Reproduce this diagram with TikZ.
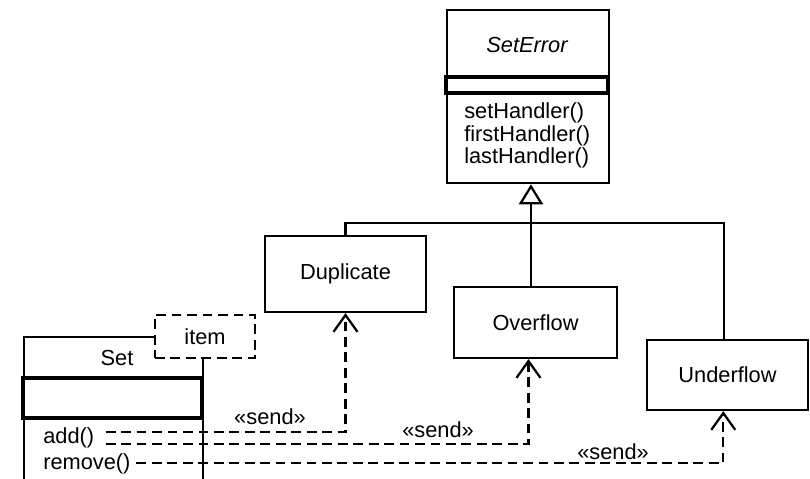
\documentclass[tikz,border=0pt]{standalone}
\usepackage{fontspec}
\setmainfont{Liberation Sans}
\usetikzlibrary{positioning, arrows.meta}

\tikzset{
  uml/.style={draw, line width=1.6pt, inner sep=0pt},
  slot/.style={draw, line width=2.4pt},
  tree/.style={line width=1.6pt},
  dots/.style={dash pattern=on 7pt off 4pt},
  send/.style={dots, line width=1.6pt, -{Straight Barb[length=0.42cm, width=0.6cm]}},
  txt/.style={inner sep=0pt},
}

\begin{document}
\begin{tikzpicture}[x=0.025cm, y=-0.025cm, font=\fontsize{15.5}{16}\selectfont]
  \useasboundingbox (0,0) rectangle (810,479);
  \clip (0,0) rectangle (810,479);

  % abstract base class
  \node [uml, anchor=north west, minimum width=4.05cm, minimum height=4.325cm] (seterror) at (446,9) {};
  \node [txt] (seterrorname) at (527,45) {\itshape SetError};
  \draw [slot] (446,77) rectangle (608,93);
  \foreach \m [count=\i] in {setHandler(), firstHandler(), lastHandler()}{
    \node [txt, anchor=base west] (op\i) at (464, {96+22.6*\i}) {\m};
  }

  % subclasses
  \node [uml, minimum width=4.025cm, minimum height=1.9cm] (duplicate) at (345.5,274) {Duplicate};
  \node [uml, minimum width=4.075cm, minimum height=1.775cm] (overflow) at (535.5,322.5) {Overflow};
  \node [uml, minimum width=4.025cm, minimum height=1.75cm] (underflow) at (727.5,375) {Underflow};

  % inheritance
  \coordinate (apex) at ([xshift=2pt]seterror.south);
  \coordinate (bar) at (530,223);
  \draw [tree, -{Triangle[open, length=0.5cm, width=0.6cm]}] (overflow.north -| apex) -- (apex);
  \draw [tree] (duplicate.north) |- (bar) -| ([xshift=-2.5pt]underflow.north);

  % template class
  \node [uml, anchor=north west, minimum width=4.475cm, minimum height=4.2cm] (set) at (23,336) {};
  \node [txt] (setname) at (117,358) {Set};
  \draw [slot] (23,378) rectangle (202,418);
  \node [uml, dots, fill=white, minimum width=2.5cm, minimum height=1.075cm] (item) at (205,336.5) {item};
  \node [txt, anchor=base west] (add) at (43,443) {add()};
  \node [txt, anchor=base west] (remove) at (43,469) {remove()};

  % dependencies
  \draw [send] ([xshift=8pt, yshift=3.9pt]add.east) -| (duplicate.south);
  \draw [send] ([xshift=8pt, yshift=-4.6pt]add.east) -| ([xshift=-5pt]overflow.south);
  \draw [send] ([xshift=4pt]remove.east) -| ([xshift=-3pt]underflow.south);
  \node [txt] (send1) at (270,417) {«send»};
  \node [txt] (send2) at (438,430) {«send»};
  \node [txt] (send3) at (613,452) {«send»};
\end{tikzpicture}
\end{document}
